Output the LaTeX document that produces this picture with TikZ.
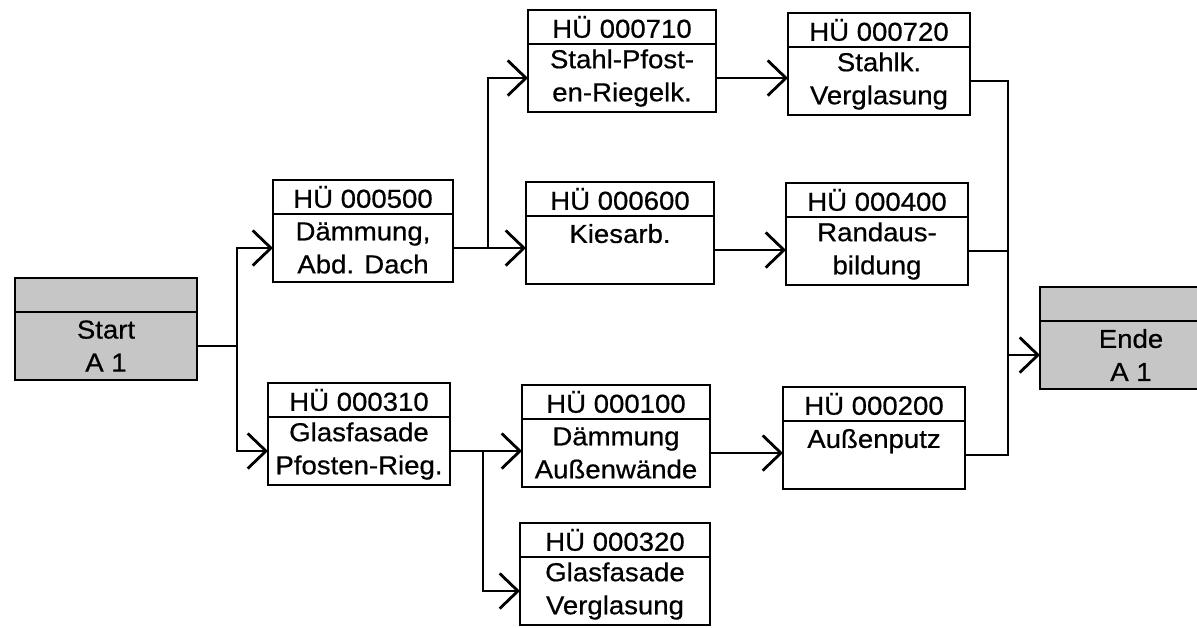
\documentclass[tikz,border=0pt]{standalone}
\usepackage{fontspec}
\setmainfont{Liberation Sans}[FakeStretch=1.06,FakeBold=0.6]
\usetikzlibrary{arrows.meta}

\begin{document}
\begin{tikzpicture}[x=0.025cm,y=-0.025cm,line width=2pt,
  head/.style={draw,anchor=north,outer sep=0pt,minimum width=#1,minimum height=0.85cm,inner sep=0pt,font=\fontsize{18.5}{23.5}\selectfont},
  head/.default=4.55cm,
  body/.style={draw,anchor=north,outer sep=0pt,minimum width=#1,minimum height=1.7cm,inner sep=0pt,align=center,font=\fontsize{18.5}{23.5}\selectfont},
  body/.default=4.55cm,
  flow/.style={-{Straight Barb[length=13pt,width=25pt]}}]
\useasboundingbox (0,0) rectangle (1197,628);
\clip (0,0) rectangle (1197,628);
% start
\node[head,fill=gray!45] (hstart) at (106,278) {};
\node[body,fill=gray!45] (tstart) at (hstart.south) {Start\\A 1};
% upper path
\node[head=4.5cm] (h500) at (363,180) {HÜ 000500};
\node[body=4.5cm] (t500) at (h500.south) {Dämmung,\\Abd. Dach};
\node[head=4.7cm] (h710) at (622,10) {HÜ 000710};
\node[body=4.7cm] (t710) at (h710.south) {Stahl-Pfost-\\en-Riegelk.};
\node[head] (h720) at (879,13) {HÜ 000720};
\node[body] (t720) at (h720.south) {Stahlk.\\Verglasung};
\node[head=4.7cm] (h600) at (620,182) {HÜ 000600};
\node[body=4.7cm] (t600) at (h600.south) {Kiesarb.\\\mbox{}};
\node[head] (h400) at (877,183) {HÜ 000400};
\node[body] (t400) at (h400.south) {Randaus-\\bildung};
% lower path
\node[head] (h310) at (359,383) {HÜ 000310};
\node[body] (t310) at (h310.south) {Glasfasade\\Pfosten-Rieg.};
\node[head=4.7cm] (h100) at (616,385) {HÜ 000100};
\node[body=4.7cm] (t100) at (h100.south) {Dämmung\\Außenwände};
\node[head=4.75cm] (h320) at (615,523) {HÜ 000320};
\node[body=4.75cm] (t320) at (h320.south) {Glasfasade\\Verglasung};
\node[head] (h200) at (874,387) {HÜ 000200};
\node[body] (t200) at (h200.south) {Außenputz\\\mbox{}};
% ende
\node[head,fill=gray!45] (hende) at (1131,287) {};
\node[body,fill=gray!45] (tende) at (hende.south) {Ende\\A 1};
% connectors
\draw (tstart.east) -- ++(40,0) coordinate (jstart);
\draw[flow] (jstart) |- (t500.west);
\draw[flow] (jstart) |- (t310.west);
\draw[flow] (t500.east) -- (t500.east -| t600.west);
\draw[flow] (t500.east) -- ++(35,0) |- (t710.west);
\draw[flow] (t710.east) -- (t710.east -| t720.west);
\draw[flow] (t600.east) -- (t600.east -| t400.west);
\draw[flow] (t310.east) -- (t310.east -| t100.west);
\draw[flow] (t310.east) -- ++(33,0) |- (t320.west);
\draw[flow] (t100.east) -- (t100.east -| t200.west);
\draw (t720.east) -- ++(38,0) coordinate (jende) |- (t200.east);
\draw (t400.east) -- (jende |- t400.east);
\draw[flow] (jende |- tende.west) -- (tende.west);
\end{tikzpicture}
\end{document}
